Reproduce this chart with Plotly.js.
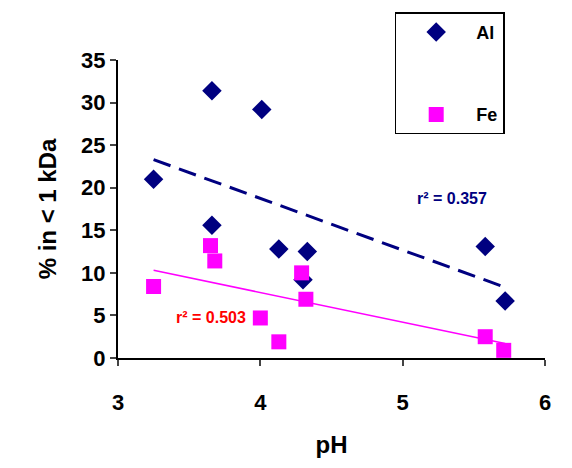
<!DOCTYPE html>
<html><head><meta charset="utf-8">
<script src="https://cdn.plot.ly/plotly-3.0.1.min.js"></script>
<style>body{margin:0}#chart{width:572px;height:468px}</style>
</head><body><div id="chart"></div>
<script>
// values
var alPH = [3.25, 3.66, 4.01, 3.66, 4.13, 4.33, 4.30, 5.58, 5.72];
var alPct = [21.0, 31.4, 29.2, 15.6, 12.8, 12.5, 9.2, 13.1, 6.7];
var fePH = [3.25, 3.65, 3.68, 4.00, 4.13, 4.29, 4.32, 5.58, 5.71];
var fePct = [8.4, 13.2, 11.4, 4.7, 1.9, 10.0, 6.9, 2.5, 0.9];
var alFitX = [3.25, 5.72], alFitY = [23.3, 8.3];
var feFitX = [3.25, 5.72], feFitY = [10.3, 1.7];

var navy = '#000080', pink = '#ff00ff';
var traces = [
    {x: alFitX, y: alFitY, mode: 'lines', showlegend: false, line: {color: navy, width: 3, dash: '18px,9px'}},
    {x: feFitX, y: feFitY, mode: 'lines', showlegend: false, line: {color: pink, width: 1.5}},
    {x: alPH, y: alPct, mode: 'markers', name: 'Al', legendgroup: 'a',
        marker: {symbol: 'diamond', size: 15, color: navy}},
    {x: fePH, y: fePct, mode: 'markers', name: 'Fe', legendgroup: 'b',
        marker: {symbol: 'square', size: 15, color: pink}}
];
var tickFont = {family: 'Arial', size: 22, color: '#000', weight: 'bold'};
var layout = {
    width: 572, height: 468,
    margin: {l: 118, r: 27, t: 47, b: 110},
    paper_bgcolor: '#fff', plot_bgcolor: '#fff',
    font: {family: 'Arial', color: '#000'},
    xaxis: {
        range: [3, 6], dtick: 1, showgrid: false, zeroline: false,
        showline: true, linecolor: '#000', linewidth: 2,
        ticks: 'outside', ticklen: 6, tickwidth: 2, tickfont: tickFont,
        ticklabelstandoff: 18,
        title: {text: '<b>pH</b>', font: {family: 'Arial', size: 24}, standoff: 22}
    },
    yaxis: {
        range: [0, 35], dtick: 5, showgrid: false, zeroline: false,
        showline: true, linecolor: '#000', linewidth: 2,
        ticks: 'outside', ticklen: 6, tickwidth: 2, tickfont: tickFont,
        title: {text: '<b>% in < 1 kDa</b>', font: {family: 'Arial', size: 24}, standoff: 18}
    },
    legend: {
        x: 0.648, y: 1.16, xanchor: 'left', yanchor: 'top',
        bordercolor: '#000', borderwidth: 1.5, bgcolor: '#fff',
        font: {family: 'Arial', size: 18, weight: 'bold'},
        traceorder: 'grouped', tracegroupgap: 56, itemwidth: 70,
        entrywidth: 150, entrywidthmode: 'pixels'
    },
    annotations: [
        {x: 5.35, y: 18.7, text: '<b>r² = 0.357</b>', showarrow: false,
            font: {family: 'Arial', size: 16, color: navy}},
        {x: 3.65, y: 4.7, text: '<b>r² = 0.503</b>', showarrow: false,
            font: {family: 'Arial', size: 16, color: '#ff0000'}}
    ]
};
Plotly.newPlot('chart', traces, layout, {displayModeBar: false});
</script>
</body></html>
